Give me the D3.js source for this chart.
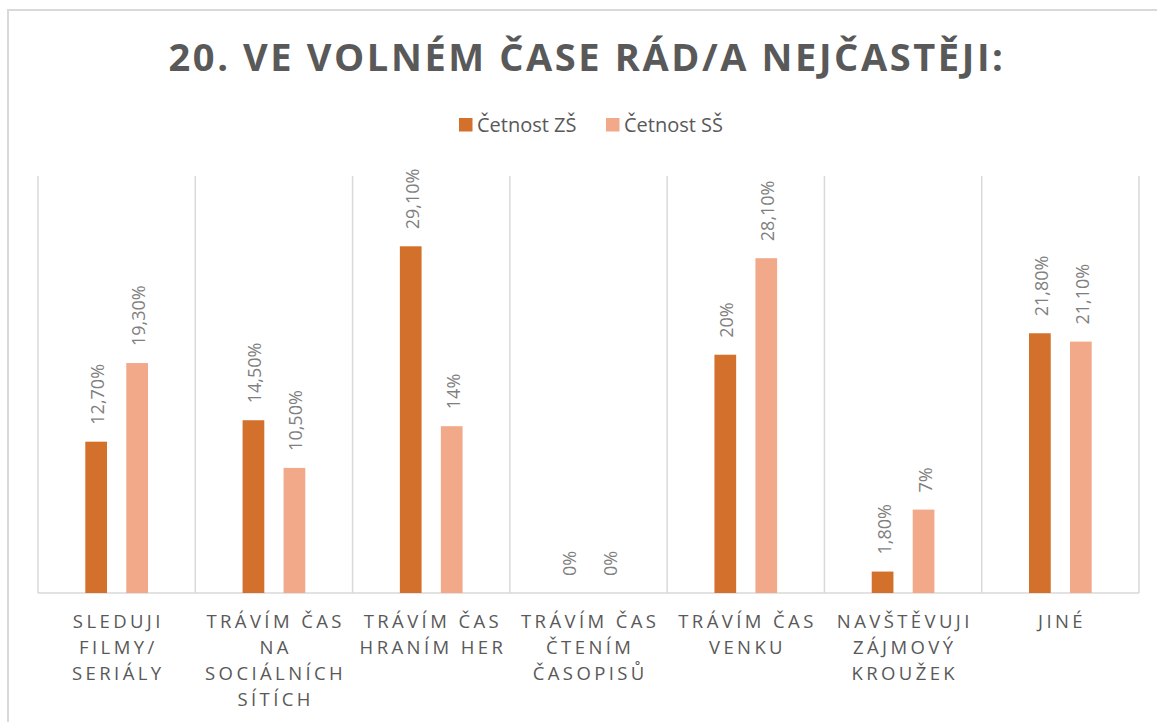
<!DOCTYPE html>
<html>
<head>
<meta charset="utf-8">
<script src="https://cdn.jsdelivr.net/npm/d3@7"></script>
<style>
  body { margin: 0; background: #fff; }
  svg { display: block; font-family: 'Open Sans', 'Noto Sans', sans-serif; }
</style>
</head>
<body>
<div id="chart"></div>
<script>
// Chart data
var categories = [
  'SLEDUJI FILMY/ SERIÁLY',
  'TRÁVÍM ČAS NA SOCIÁLNÍCH SÍTÍCH',
  'TRÁVÍM ČAS HRANÍM HER',
  'TRÁVÍM ČAS ČTENÍM ČASOPISŮ',
  'TRÁVÍM ČAS VENKU',
  'NAVŠTĚVUJI ZÁJMOVÝ KROUŽEK',
  'JINÉ'
]
var seriesNames = ['Četnost ZŠ', 'Četnost SŠ']
var valuesZS = [12.7, 14.5, 29.1, 0, 20, 1.8, 21.8]
var valuesSS = [19.3, 10.5, 14, 0, 28.1, 7, 21.1]
var labelsZS = ['12,70%', '14,50%', '29,10%', '0%', '20%', '1,80%', '21,80%']
var labelsSS = ['19,30%', '10,50%', '14%', '0%', '28,10%', '7%', '21,10%']
var seriesColors = ['#D3702C', '#F1A98A']
var chartTitle = '20. VE VOLNÉM ČASE RÁD/A NEJČASTĚJI:'

// Layout
var width = 1157
var height = 722
var plot = { left: 38, right: 1139, top: 176, bottom: 593 }

var svg = d3.select('#chart').append('svg')
  .attr('width', width)
  .attr('height', height)

// Chart border
svg.append('rect')
  .attr('x', 8)
  .attr('y', 10)
  .attr('width', width + 20)
  .attr('height', height + 20)
  .style('fill', '#fff')
  .style('stroke', '#d9d9d9')
  .style('stroke-width', 2)

// Title
svg.append('text')
  .attr('x', 587)
  .attr('y', 71)
  .attr('text-anchor', 'middle')
  .style('font-size', '38px')
  .style('font-weight', 'bold')
  .style('letter-spacing', '2.6px')
  .style('fill', '#595959')
  .text(chartTitle)

// Legend
var legend = svg.append('g').attr('class', 'legend')
var legendX = [459, 606]
seriesNames.forEach(function (name, i) {
  var g = legend.append('g').attr('transform', 'translate(' + legendX[i] + ',118)')
  g.append('rect')
    .attr('width', 13.5)
    .attr('height', 13.5)
    .style('fill', seriesColors[i])
  g.append('text')
    .attr('x', 18)
    .attr('y', 13.5)
    .style('font-size', '20px')
    .style('fill', '#595959')
    .text(name)
})

// Scales
var x0 = d3.scaleBand()
  .domain(d3.range(categories.length))
  .range([plot.left, plot.right])

var x1 = d3.scaleBand()
  .domain([0, 1])
  .range([0, 62.7])
  .paddingInner(0.47)

var y = d3.scaleLinear()
  .domain([0, 35])
  .range([plot.bottom, plot.top])

var groupOffset = (x0.bandwidth() - 62.7) / 2

// Vertical gridlines at category boundaries
var edges = d3.range(categories.length + 1).map(function (i) {
  return plot.left + i * x0.step()
})
svg.append('g').selectAll('line')
  .data(edges)
  .enter().append('line')
  .attr('x1', function (d) { return d })
  .attr('x2', function (d) { return d })
  .attr('y1', plot.top)
  .attr('y2', plot.bottom)
  .style('stroke', '#d9d9d9')
  .style('stroke-width', 1.5)

// Baseline
svg.append('line')
  .attr('x1', plot.left)
  .attr('x2', plot.right)
  .attr('y1', plot.bottom)
  .attr('y2', plot.bottom)
  .style('stroke', '#d9d9d9')
  .style('stroke-width', 1.5)

// Bars
var series = [
  { values: valuesZS, labels: labelsZS },
  { values: valuesSS, labels: labelsSS }
]

series.forEach(function (s, si) {
  var g = svg.append('g').attr('class', 'series' + si)

  g.selectAll('rect')
    .data(s.values)
    .enter().append('rect')
    .attr('x', function (d, i) { return x0(i) + groupOffset + x1(si) })
    .attr('y', function (d) { return y(d) })
    .attr('width', x1.bandwidth())
    .attr('height', function (d) { return y(0) - y(d) })
    .style('fill', seriesColors[si])

  // Rotated data labels
  g.selectAll('text')
    .data(s.values)
    .enter().append('text')
    .attr('transform', function (d, i) {
      var cx = x0(i) + groupOffset + x1(si) + x1.bandwidth() / 2 + 1.5
      return 'translate(' + cx + ',' + (y(d) - 17) + ') rotate(-90)'
    })
    .attr('dy', '0.36em')
    .style('font-size', '18px')
    .style('fill', '#7f7f7f')
    .text(function (d, i) { return s.labels[i] })
})

// Category labels with wrapping
var catLabels = svg.append('g').selectAll('text')
  .data(categories)
  .enter().append('text')
  .attr('x', function (d, i) { return x0(i) + x0.bandwidth() / 2 })
  .attr('y', 628)
  .attr('text-anchor', 'middle')
  .style('font-size', '18.5px')
  .style('letter-spacing', '3.4px')
  .style('fill', '#595959')

catLabels.each(function (d, i) {
  var el = d3.select(this)
  var words = d.split(' ')
  var lines = []
  var line = ''
  var maxWidth = x0.bandwidth() - 6
  words.forEach(function (w) {
    var test = line ? line + ' ' + w : w
    el.text(test)
    if (line && this.getComputedTextLength() > maxWidth) {
      lines.push(line)
      line = w
    } else {
      line = test
    }
  }, this)
  lines.push(line)
  el.text(null)
  var cx = x0(i) + x0.bandwidth() / 2 + 1.7
  lines.forEach(function (l, li) {
    el.append('tspan')
      .attr('x', cx)
      .attr('dy', li === 0 ? 0 : 26)
      .text(l)
  })
})
</script>
</body>
</html>
